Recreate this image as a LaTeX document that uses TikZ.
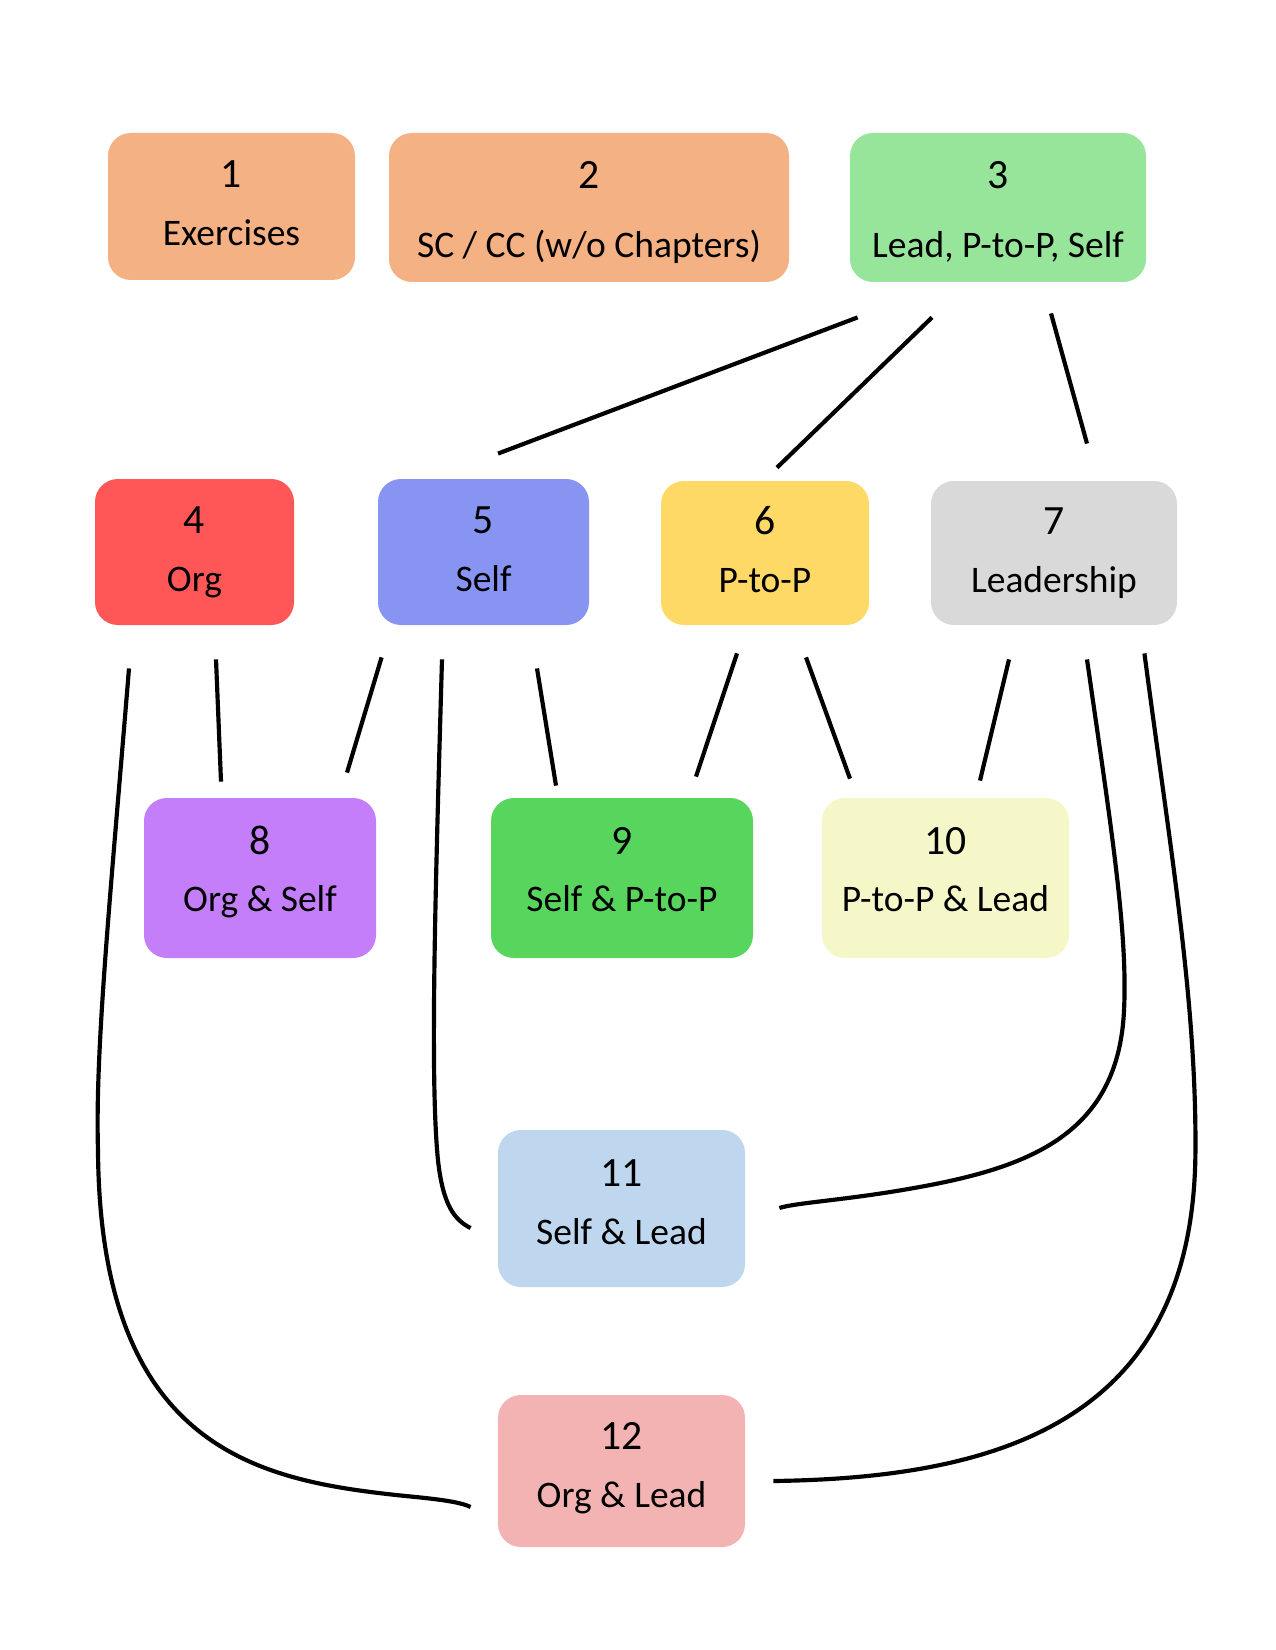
\documentclass[tikz,border=0pt]{standalone}
\usepackage{fontspec}
\setmainfont{Carlito}
\usepackage{tikz}
\usetikzlibrary{calc}

\definecolor{boxorange}{RGB}{244,177,131}
\definecolor{boxmint}{RGB}{151,229,154}
\definecolor{boxred}{RGB}{255,87,87}
\definecolor{boxblue}{RGB}{136,148,242}
\definecolor{boxgold}{RGB}{255,217,102}
\definecolor{boxgrey}{RGB}{217,217,217}
\definecolor{boxviolet}{RGB}{196,126,249}
\definecolor{boxgreen}{RGB}{87,213,92}
\definecolor{boxcream}{RGB}{245,247,200}
\definecolor{boxsky}{RGB}{190,215,238}
\definecolor{boxpink}{RGB}{244,179,179}

\newcommand{\nr}[1]{{\fontsize{20}{27.8}\selectfont #1}}

\begin{document}
\begin{tikzpicture}[
  x=0.48pt, y=-0.48pt,
  every node/.style={font=\fontsize{18}{27.8}\selectfont, align=center},
  box/.style={rectangle, rounded corners=11pt, inner sep=0pt, text height=34.6pt, text depth=0pt},
  highbox/.style={box, text height=37.6pt},
  lowbox/.style={box, text height=32.6pt},
  tallbox/.style={box, text height=47.6pt},
  boxsize/.style 2 args={minimum width=#1*0.48pt, minimum height=#2*0.48pt},
  link/.style={line width=2pt, black}
]

\useasboundingbox (0,0) rectangle (1275,1650);

% Top row
\node[highbox, boxsize={247}{147}, fill=boxorange] (b1) at (231.5,206.5) {\nr{1}\\Exercises};
\node[tallbox, boxsize={400}{149}, fill=boxorange] (b2) at (589,207.5) {\nr{2}\\[5.3pt]SC / CC (w/o Chapters)};
\node[tallbox, boxsize={296}{149}, fill=boxmint] (b3) at (998,207.5) {\nr{3}\\[5.3pt]Lead, P-to-P, Self};

% Second row
\node[highbox, boxsize={199}{146}, fill=boxred] (b4) at (194.5,552) {\nr{4}\\Org};
\node[highbox, boxsize={211}{146}, fill=boxblue] (b5) at (483.5,552) {\nr{5}\\Self};
\node[highbox, boxsize={208}{144}, fill=boxgold] (b6) at (765,553) {\nr{6}\\P-to-P};
\node[highbox, boxsize={246}{144}, fill=boxgrey] (b7) at (1054,553) {\nr{7}\\Leadership};

% Third row
\node[lowbox, boxsize={232}{160}, fill=boxviolet] (b8) at (260,878) {\nr{8}\\Org \& Self};
\node[lowbox, boxsize={262}{160}, fill=boxgreen] (b9) at (622,878) {\nr{9}\\Self \& P-to-P};
\node[lowbox, boxsize={247}{160}, fill=boxcream] (b10) at (945.5,878) {\nr{10}\\P-to-P \& Lead};

% Bottom boxes
\node[box, boxsize={247}{157}, fill=boxsky] (b11) at (621.5,1208.5) {\nr{11}\\Self \& Lead};
\node[box, boxsize={247}{152}, fill=boxpink] (b12) at (621.5,1471) {\nr{12}\\Org \& Lead};

% Straight links
\draw[link] ([shift={(8,35)}]b3.south west) -- ([shift={(14.5,-25)}]b5.north);
\draw[link] ([shift={(-66,35)}]b3.south) -- ([shift={(12,-13)}]b6.north);
\draw[link] ([shift={(53,31)}]b3.south) -- ([shift={(33,-37)}]b7.north);
\draw[link] ([shift={(21.5,34)}]b4.south) -- ([shift={(-39,-16)}]b8.north);
\draw[link] ([shift={(4,32)}]b5.south west) -- ([shift={(87,-25)}]b8.north);
\draw[link] ([shift={(53.5,43)}]b5.south) -- ([shift={(-66,-12)}]b9.north);
\draw[link] ([shift={(-28,28)}]b6.south) -- ([shift={(74,-21)}]b9.north);
\draw[link] ([shift={(41,32)}]b6.south) -- ([shift={(-95.5,-19)}]b10.north);
\draw[link] ([shift={(-45,34)}]b7.south) -- ([shift={(34.5,-17)}]b10.north);

% Long curved links
\draw[link] ([shift={(-41.5,34)}]b5.south)
  .. controls +(-7,241) and +(-8,-80) .. ++(-4,501)
  .. controls +(5,45) and +(-16,-8) .. ([shift={(-27,19.5)}]b11.west);
\draw[link] ([shift={(33,34)}]b7.south)
  .. controls +(23,161) and +(4,-80) .. ++(37,351)
  .. controls +(-6,130) and +(120,-20) .. ++(-224,180)
  .. controls +(-60,10) and +(15,-5) .. ([shift={(34,-0.5)}]b11.east);
\draw[link] ([shift={(-65.5,43)}]b4.south)
  .. controls +(-19,232) and +(-3,-100) .. ++(-31,482)
  .. controls +(2,300) and +(-140,-15) .. ++(302,345)
  .. controls +(30,3) and +(-12,-6) .. ([shift={(-27,36)}]b12.west);
\draw[link] ([shift={(-33,28)}]b7.south east)
  .. controls +(26,197) and +(1,-150) .. ++(51,497)
  .. controls +(-1,270) and +(227,-3) .. ([shift={(28,10)}]b12.east);

\end{tikzpicture}
\end{document}
